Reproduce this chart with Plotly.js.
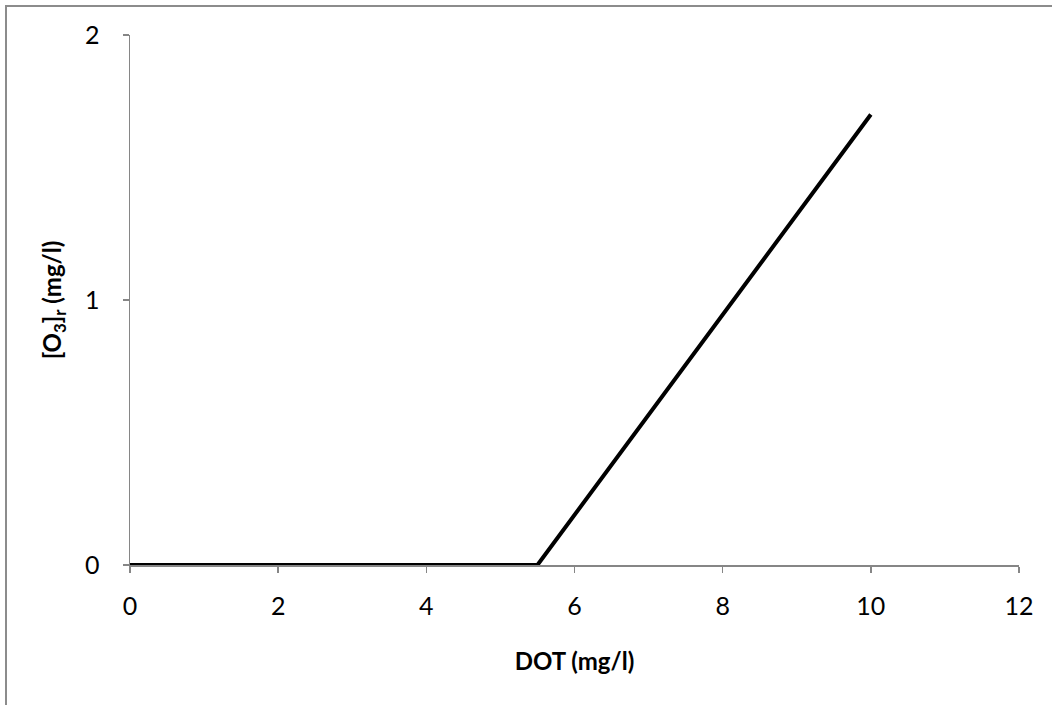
<!DOCTYPE html>
<html>
<head>
<meta charset="utf-8">
<script src="https://cdn.plot.ly/plotly-3.0.1.min.js"></script>
<style>
  html, body { margin: 0; padding: 0; background: #ffffff; }
  #frame { position: absolute; left: 5px; top: 5px; width: 1047px; height: 700px;
           border-left: 2px solid #8c8c8c; border-top: 2px solid #8c8c8c; }
  #chart { position: absolute; left: 0; top: 0; width: 1052px; height: 705px; }
</style>
</head>
<body>
<div id="frame"></div>
<div id="chart"></div>
<script>
const dotValues = [0, 5.5, 10];
const ozoneValues = [0, 0, 1.7];
const xTicks = [0, 2, 4, 6, 8, 10, 12];
const yTicks = [0, 1, 2];
const xTitle = '<b>DOT (mg/l)</b>';
const yTitle = '<b>[O<sub>3</sub>]<sub>r</sub> (mg/l)</b>';

const axisColor = '#868686';
const fontFam = 'Lato, "Open Sans", sans-serif';

const trace = {
  x: dotValues,
  y: ozoneValues,
  type: 'scatter',
  mode: 'lines',
  line: { color: '#000000', width: 4 },
  cliponaxis: false,
  hoverinfo: 'skip'
};

const layout = {
  width: 1052,
  height: 705,
  paper_bgcolor: 'rgba(0,0,0,0)',
  plot_bgcolor: 'rgba(0,0,0,0)',
  margin: { l: 130, r: 33, t: 35, b: 140 },
  showlegend: false,
  font: { family: fontFam, size: 24, color: '#000000' },
  xaxis: {
    range: [0, 12],
    tickvals: xTicks,
    ticktext: xTicks.map(String),
    showgrid: false,
    zeroline: false,
    showline: true,
    linecolor: axisColor,
    linewidth: 1.5,
    ticks: 'outside',
    ticklen: 6,
    tickwidth: 1.5,
    tickcolor: axisColor,
    ticklabelstandoff: 12,
    tickfont: { family: fontFam, size: 25, color: '#000000' },
    title: { text: xTitle, font: { family: fontFam, size: 24, color: '#000000' }, standoff: 34 }
  },
  yaxis: {
    range: [0, 2],
    tickvals: yTicks,
    ticktext: yTicks.map(String),
    showgrid: false,
    zeroline: false,
    showline: true,
    linecolor: axisColor,
    linewidth: 1.5,
    ticks: 'outside',
    ticklen: 6,
    tickwidth: 1.5,
    tickcolor: axisColor,
    ticklabelstandoff: 18,
    tickfont: { family: fontFam, size: 25, color: '#000000' },
    title: { text: yTitle, font: { family: fontFam, size: 24, color: '#000000' }, standoff: 16 }
  }
};

Plotly.newPlot('chart', [trace], layout, { staticPlot: true, displayModeBar: false });
</script>
</body>
</html>
